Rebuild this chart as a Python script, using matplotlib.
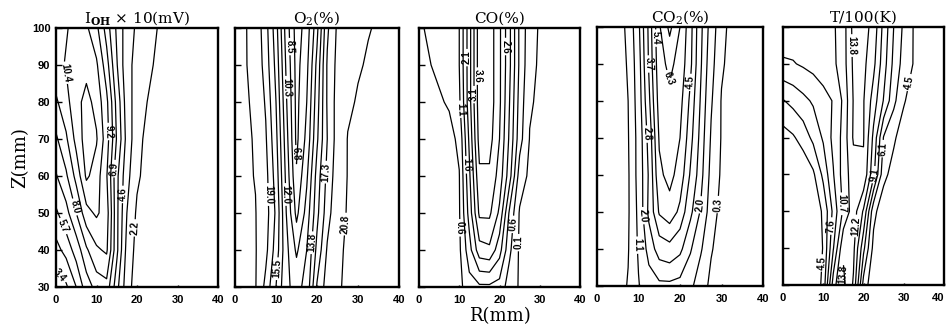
import numpy as np
import matplotlib.pyplot as plt

plt.rcParams['font.family'] = ['Liberation Sans', 'DejaVu Sans']
plt.rcParams['mathtext.fontset'] = 'dejavuserif'

# grid of the measurements (mm)
R_MM = [0, 2.5, 5, 7.5, 10, 12.5, 15, 17.5, 20, 22.5, 25, 27.5, 30, 32.5, 35, 37.5, 40]
Z_MM = [100, 90, 80, 70, 60, 50, 40, 30]

# I_OH x 10 (mV), rows follow Z_MM
IOH = [
    [9.6, 10.3, 10.8, 10.6, 9.5, 7.5, 5.5, 4.0, 3.2, 2.7, 2.2, 1.8, 1.5, 1.2, 1.0, 1.0, 1.0],
    [10.0, 10.5, 11.0, 11.2, 10.6, 8.5, 5.8, 3.8, 3.0, 2.5, 2.0, 1.6, 1.3, 1.1, 1.0, 1.0, 1.0],
    [9.0, 10.0, 11.2, 11.8, 11.2, 9.5, 6.5, 4.0, 2.8, 2.2, 1.7, 1.4, 1.2, 1.0, 1.0, 1.0, 1.0],
    [7.8, 9.0, 10.8, 12.0, 11.6, 9.8, 6.8, 4.2, 2.6, 1.9, 1.5, 1.3, 1.1, 1.0, 1.0, 1.0, 1.0],
    [6.8, 7.8, 9.6, 11.7, 11.0, 9.3, 6.0, 3.8, 2.4, 1.8, 1.4, 1.2, 1.0, 1.0, 1.0, 1.0, 1.0],
    [5.5, 6.5, 8.0, 10.0, 10.6, 9.8, 6.0, 3.4, 2.0, 1.5, 1.3, 1.1, 1.0, 1.0, 1.0, 1.0, 1.0],
    [4.2, 5.0, 6.2, 7.8, 9.0, 9.4, 6.0, 3.0, 1.8, 1.4, 1.2, 1.1, 1.0, 1.0, 1.0, 1.0, 1.0],
    [2.8, 3.2, 4.6, 6.3, 7.3, 7.6, 5.0, 2.7, 1.6, 1.3, 1.1, 1.0, 1.0, 1.0, 1.0, 1.0, 1.0],
]

# O2 (%)
O2 = [
    [21.0, 20.9, 20.2, 18.0, 14.5, 9.5, 6.0, 7.5, 11.5, 17.0, 19.3, 20.0, 20.4, 20.75, 20.9, 21.0, 21.0],
    [21.0, 20.9, 20.3, 18.3, 15.0, 10.0, 6.2, 8.0, 12.5, 17.5, 19.5, 20.3, 20.7, 20.9, 21.0, 21.0, 21.0],
    [21.0, 21.0, 20.5, 18.8, 15.5, 10.5, 6.3, 8.5, 13.0, 17.5, 19.7, 20.6, 20.9, 21.0, 21.0, 21.0, 21.0],
    [21.0, 21.0, 20.7, 19.2, 16.0, 11.0, 6.4, 9.0, 13.5, 17.3, 19.8, 20.85, 21.0, 21.0, 21.0, 21.0, 21.0],
    [21.0, 21.0, 20.75, 19.6, 16.5, 11.5, 7.0, 10.0, 14.5, 17.8, 20.0, 20.85, 21.0, 21.0, 21.0, 21.0, 21.0],
    [21.0, 21.0, 20.85, 19.8, 17.0, 12.0, 8.0, 11.0, 15.0, 18.3, 20.3, 20.9, 21.0, 21.0, 21.0, 21.0, 21.0],
    [21.0, 21.0, 20.9, 19.5, 16.5, 12.5, 10.0, 12.0, 16.0, 19.2, 20.6, 20.95, 21.0, 21.0, 21.0, 21.0, 21.0],
    [21.0, 21.0, 20.9, 18.5, 15.5, 12.3, 11.5, 12.5, 17.5, 19.8, 20.7, 20.95, 21.0, 21.0, 21.0, 21.0, 21.0],
]

# CO (%)
CO = [
    [0.55, 0.65, 0.75, 0.85, 1.1, 2.4, 3.9, 3.9, 3.2, 2.2, 1.0, 0.3, 0.05, 0, 0, 0, 0],
    [0.5, 0.58, 0.68, 0.8, 1.1, 2.4, 3.9, 3.9, 3.2, 2.2, 1.0, 0.25, 0.03, 0, 0, 0, 0],
    [0.4, 0.45, 0.55, 0.65, 1.0, 2.4, 3.9, 3.9, 3.2, 2.1, 0.9, 0.15, 0.02, 0, 0, 0, 0],
    [0.3, 0.35, 0.4, 0.45, 0.7, 2.2, 3.8, 3.8, 3.1, 2.0, 0.8, 0.08, 0, 0, 0, 0, 0],
    [0.3, 0.3, 0.35, 0.4, 0.58, 2.0, 3.5, 3.5, 2.9, 1.8, 0.35, 0.0, 0, 0, 0, 0, 0],
    [0.3, 0.3, 0.3, 0.35, 0.55, 1.8, 3.2, 3.2, 2.5, 1.0, 0.05, 0.0, 0, 0, 0, 0, 0],
    [0.25, 0.25, 0.3, 0.35, 0.5, 1.4, 2.4, 2.5, 1.8, 0.7, 0.02, 0, 0, 0, 0, 0, 0],
    [0.2, 0.2, 0.25, 0.3, 0.45, 0.9, 1.0, 1.0, 0.9, 0.35, 0.05, 0, 0, 0, 0, 0, 0],
]

# CO2 (%)
CO2 = [
    [0, 0, 0.1, 0.4, 1.8, 3.9, 6.2, 7.3, 6.3, 4.8, 3.0, 1.6, 0.5, 0.1, 0, 0, 0],
    [0, 0, 0.05, 0.35, 1.6, 3.8, 6.0, 6.5, 6.0, 4.7, 2.9, 1.4, 0.4, 0.05, 0, 0, 0],
    [0, 0, 0.03, 0.3, 1.5, 3.5, 5.8, 6.1, 5.7, 4.3, 2.7, 1.2, 0.25, 0, 0, 0, 0],
    [0, 0, 0.02, 0.25, 1.4, 3.1, 5.5, 6.0, 5.4, 4.0, 2.5, 1.0, 0.25, 0, 0, 0, 0],
    [0, 0, 0, 0.2, 1.4, 2.9, 5.2, 5.7, 5.0, 3.6, 2.3, 0.8, 0.2, 0, 0, 0, 0],
    [0, 0, 0, 0.2, 1.3, 3.0, 4.6, 5.0, 4.3, 3.0, 1.9, 0.6, 0.1, 0, 0, 0, 0],
    [0, 0, 0, 0.25, 1.2, 2.3, 3.2, 3.4, 3.0, 2.1, 1.2, 0.35, 0.05, 0, 0, 0, 0],
    [0, 0, 0, 0.35, 1.05, 1.6, 1.8, 1.8, 1.7, 1.3, 0.6, 0.15, 0, 0, 0, 0, 0],
]

# T / 100 (K)
TEMP = [
    [10.0, 10.0, 10.1, 10.2, 10.3, 10.5, 11.5, 14.3, 14.5, 13.2, 10.2, 7.6, 5.8, 4.4, 3.3, 3.0, 3.0],
    [8.9, 9.0, 9.3, 9.6, 10.0, 10.4, 11.5, 14.1, 14.2, 12.6, 9.8, 7.2, 5.5, 4.4, 3.2, 3.0, 3.0],
    [6.0, 6.6, 7.2, 7.8, 8.5, 9.2, 11.0, 13.9, 13.9, 11.5, 9.0, 6.5, 4.7, 3.5, 3.0, 3.0, 3.0],
    [3.8, 4.3, 5.2, 6.5, 7.8, 9.5, 11.2, 14.0, 13.9, 10.3, 6.0, 4.8, 3.5, 3.0, 3.0, 3.0, 3.0],
    [3.0, 3.0, 3.2, 4.2, 6.5, 9.0, 11.4, 13.0, 13.5, 9.5, 5.0, 3.8, 3.2, 3.0, 3.0, 3.0, 3.0],
    [3.0, 3.0, 3.0, 3.2, 4.8, 8.0, 11.0, 13.0, 10.5, 5.0, 3.4, 3.1, 3.0, 3.0, 3.0, 3.0, 3.0],
    [3.0, 3.0, 3.0, 3.1, 4.6, 9.0, 13.5, 12.6, 8.0, 4.0, 3.2, 3.0, 3.0, 3.0, 3.0, 3.0, 3.0],
    [3.0, 3.0, 3.0, 3.0, 5.0, 11.5, 14.2, 12.0, 5.5, 3.2, 3.0, 3.0, 3.0, 3.0, 3.0, 3.0, 3.0],
]

LEVELS_IOH = [2.2, 3.4, 4.6, 5.7, 6.9, 8.0, 9.2, 10.4, 11.5]
LEVELS_O2 = [5.1, 6.8, 8.5, 10.3, 12.0, 13.8, 15.5, 17.3, 19.0, 20.8]
LEVELS_CO = [0.1, 0.6, 1.1, 1.6, 2.1, 2.6, 3.1, 3.6]
LEVELS_CO2 = [0.3, 1.1, 2.0, 2.8, 3.7, 4.5, 5.4, 6.3, 7.1]
LEVELS_T = [4.5, 6.1, 7.6, 9.1, 10.7, 12.2, 13.8]

TITLES = [r'I$_{\mathbf{OH}}$ × 10(mV)', r'O$_2$(%)', 'CO(%)', r'CO$_2$(%)', 'T/100(K)']

panels = [
    (IOH, LEVELS_IOH, [(10.4, 3, 88), (9.2, 12, 72), (6.9, 14.3, 62), (4.6, 17.2, 55),
                       (2.2, 19, 46), (8.0, 6, 52), (5.7, 3, 47), (3.4, 3, 35)]),
    (O2, LEVELS_O2, [(8.5, 14, 95), (10.3, 13, 84), (6.8, 15, 66), (19.0, 8, 55),
                     (12.0, 12, 55), (17.3, 23, 61), (15.5, 9.6, 35), (13.8, 18.3, 42),
                     (20.8, 27, 47)]),
    (CO, LEVELS_CO, [(2.1, 11, 92), (3.6, 15, 87), (3.1, 12.5, 82), (2.6, 20.6, 95),
                     (1.1, 9.4, 78), (1.6, 11, 63), (0.6, 10, 46), (0.6, 22.5, 47),
                     (0.1, 24.5, 42)]),
    (CO2, LEVELS_CO2, [(5.4, 14.4, 97), (3.7, 12, 90), (6.3, 17, 86), (4.5, 22.9, 85),
                       (2.8, 11, 71), (2.0, 11, 49), (1.1, 8, 41), (2.0, 24.4, 52),
                       (0.3, 29.3, 52)]),
    (TEMP, LEVELS_T, [(13.8, 19, 95), (4.5, 31, 85), (10.7, 14.1, 52), (7.6, 12, 46),
                      (9.1, 22.4, 60), (6.1, 24.8, 67), (12.2, 18.3, 46), (4.5, 9.5, 36),
                      (13.8, 14.4, 33)]),
]

fig = plt.figure(figsize=(9.46, 3.32), dpi=100)
lefts = [56, 235, 419, 597, 783]
widths = [162, 164, 161, 166, 161]
tops = [28, 28, 28, 27, 27]
bottoms = [287, 287, 287, 286, 285]

for i, (field, levels, labels) in enumerate(panels):
    ax = fig.add_axes([lefts[i] / 946, 1 - bottoms[i] / 332,
                       widths[i] / 946, (bottoms[i] - tops[i]) / 332])
    data = np.array(field)
    # one contour set per level, so each label lands on its own line
    for lev in levels:
        if not (data.min() < lev < data.max()):
            continue
        cs = ax.contour(R_MM, Z_MM, data, levels=[lev],
                        colors='black', linewidths=0.9)
        pts = [(r, z) for l, r, z in labels if l == lev]
        if pts:
            txts = ax.clabel(cs, manual=pts, inline=True, fmt='%.1f',
                             fontsize=7, inline_spacing=2)
            for t in txts:
                t.set_fontweight('bold')
    ax.set_xlim(0, 40)
    ax.set_ylim(30, 100)
    ax.set_xticks([0, 10, 20, 30, 40])
    ax.set_yticks([30, 40, 50, 60, 70, 80, 90, 100])
    ax.tick_params(direction='in', width=1, labelsize=8)
    ax.tick_params(axis='y', length=4, pad=4)
    ax.tick_params(axis='x', length=1.5, pad=6)
    if i > 0:
        ax.tick_params(labelleft=False)
    for lbl in ax.get_xticklabels() + ax.get_yticklabels():
        lbl.set_fontweight('bold')
    if i == len(panels) - 1:
        ax.get_xticklabels()[-1].set_horizontalalignment('right')
    for s in ax.spines.values():
        s.set_linewidth(1.7)
    ax.set_title(TITLES[i], fontfamily='DejaVu Serif', fontsize=11, pad=4)
    if i == 0:
        ax.set_ylabel('Z(mm)', fontfamily='DejaVu Serif', fontsize=13, labelpad=2)
    if i == 2:
        ax.set_xlabel('R(mm)', fontfamily='DejaVu Serif', fontsize=13, labelpad=1)

fig.savefig('out.png', dpi=100)
